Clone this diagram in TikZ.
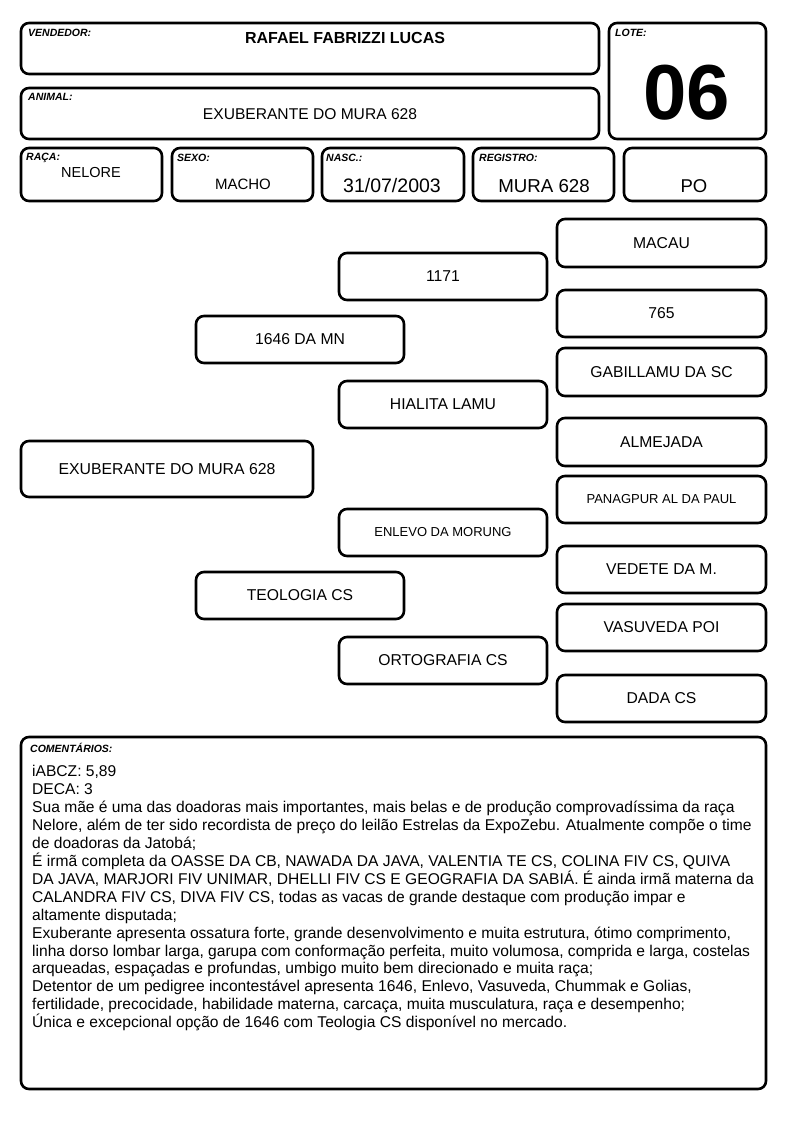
\documentclass[tikz,border=0pt]{standalone}
\usepackage{fontspec}
\setmainfont{Liberation Sans}
\begin{document}
\begin{tikzpicture}[x=1pt,y=-1pt,
  box/.style={draw=black,line width=2.6pt,rounded corners=8pt,inner sep=0pt,align=center},
  lbl/.style={anchor=north west,inner sep=0pt,font=\fontsize{10.5}{11}\selectfont\bfseries\itshape},
  ped/.style={box,minimum width=208pt,minimum height=47pt,font=\fontsize{15.7}{17}\selectfont},
  pedr/.style={box,minimum width=209pt,minimum height=47pt,font=\fontsize{15.7}{17}\selectfont},
  val/.style={inner sep=0pt,font=\fontsize{14.5}{16}\selectfont}]
\useasboundingbox[fill=white] (0,0) rectangle (794,1123);
% header boxes
\node[box,minimum width=578pt,minimum height=51pt] (vend) at (310,48.5) {};
\node[box,minimum width=157pt,minimum height=116pt] (lote) at (687.5,81) {};
\node[box,minimum width=578pt,minimum height=51pt] (anim) at (310,113.5) {};
\node[box,minimum width=141pt,minimum height=53pt] (raca) at (91.5,174.5) {};
\node[box,minimum width=141pt,minimum height=53pt] (sexo) at (242.5,174.5) {};
\node[box,minimum width=142pt,minimum height=53pt] (nasc) at (393,174.5) {};
\node[box,minimum width=141pt,minimum height=53pt] (reg) at (543.5,174.5) {};
\node[box,minimum width=142pt,minimum height=53pt] (po) at (695,174.5) {};
% labels
\node[lbl] (lvend) at (28,29) {VENDEDOR:};
\node[lbl] (llote) at (615,29) {LOTE:};
\node[lbl] (lanim) at (28,93) {ANIMAL:};
\node[lbl] (lraca) at (26,153) {RAÇA:};
\node[lbl] (lsexo) at (177,154) {SEXO:};
\node[lbl] (lnasc) at (326,154) {NASC.:};
\node[lbl] (lreg) at (479,154) {REGISTRO:};
% values
\node[inner sep=0pt,font=\fontsize{16}{17}\selectfont\bfseries] (tvend) at (345,38) {RAFAEL FABRIZZI LUCAS};
\node[inner sep=0pt,font=\fontsize{78}{80}\selectfont\bfseries] (tlote) at (687,93) {06};
\node[val,font=\fontsize{15.6}{17}\selectfont] (tanim) at (310,114) {EXUBERANTE DO MURA 628};
\node[val] (traca) at (91,173) {NELORE};
\node[val,font=\fontsize{15}{16}\selectfont] (tsexo) at (243,184) {MACHO};
\node[val,font=\fontsize{19.5}{20}\selectfont] (tnasc) at (392,186) {31/07/2003};
\node[val,font=\fontsize{18.7}{20}\selectfont] (treg) at (544,186) {MURA 628};
\node[val,font=\fontsize{18.5}{20}\selectfont] (tpo) at (694,186) {PO};
% pedigree
\node[box,minimum width=292pt,minimum height=56pt,font=\fontsize{15.8}{17}\selectfont] (exu) at (167,469) {EXUBERANTE DO MURA 628};
\node[ped] (pai) at (300,339.5) {1646 DA MN};
\node[ped] (mae) at (300,595.5) {TEOLOGIA CS};
\node[ped] (p1171) at (443,276.5) {1171};
\node[ped] (hial) at (443,404.5) {HIALITA LAMU};
\node[ped,font=\fontsize{13}{14}\selectfont] (enl) at (443,532.5) {ENLEVO DA MORUNG};
\node[ped] (orto) at (443,660.5) {ORTOGRAFIA CS};
\node[pedr,minimum height=48pt] (macau) at (661.5,243) {MACAU};
\node[pedr] (p765) at (661.5,313.5) {765};
\node[pedr,minimum height=48pt] (gab) at (661.5,372) {GABILLAMU DA SC};
\node[pedr,minimum height=48pt] (alm) at (661.5,442) {ALMEJADA};
\node[pedr,font=\fontsize{13}{14}\selectfont] (pan) at (661.5,499.5) {PANAGPUR AL DA PAUL};
\node[pedr] (ved) at (661.5,569.5) {VEDETE DA M.};
\node[pedr] (vas) at (661.5,627.5) {VASUVEDA POI};
\node[pedr] (dada) at (661.5,698.5) {DADA CS};
% comments
\node[box,minimum width=745pt,minimum height=352pt] (com) at (393.5,913) {};
\node[lbl] (lcom) at (30,743) {COMENTÁRIOS:};
\node[anchor=north west,inner sep=0pt,align=left,font=\fontsize{15.6}{17.95}\selectfont] (tcom) at (32,765) {iABCZ: 5,89\\
DECA: 3\\
Sua mãe é uma das doadoras mais importantes, mais belas e de produção comprovadíssima da raça\\
Nelore, além de ter sido recordista de preço do leilão Estrelas da ExpoZebu. Atualmente compõe o time\\
de doadoras da Jatobá;\\
É irmã completa da OASSE DA CB, NAWADA DA JAVA, VALENTIA TE CS, COLINA FIV CS, QUIVA\\
DA JAVA, MARJORI FIV UNIMAR, DHELLI FIV CS E GEOGRAFIA DA SABIÁ. É ainda irmã materna da\\
CALANDRA FIV CS, DIVA FIV CS, todas as vacas de grande destaque com produção impar e\\
altamente disputada;\\
Exuberante apresenta ossatura forte, grande desenvolvimento e muita estrutura, ótimo comprimento,\\
linha dorso lombar larga, garupa com conformação perfeita, muito volumosa, comprida e larga, costelas\\
arqueadas, espaçadas e profundas, umbigo muito bem direcionado e muita raça;\\
Detentor de um pedigree incontestável apresenta 1646, Enlevo, Vasuveda, Chummak e Golias,\\
fertilidade, precocidade, habilidade materna, carcaça, muita musculatura, raça e desempenho;\\
Única e excepcional opção de 1646 com Teologia CS disponível no mercado.};
\end{tikzpicture}
\end{document}
